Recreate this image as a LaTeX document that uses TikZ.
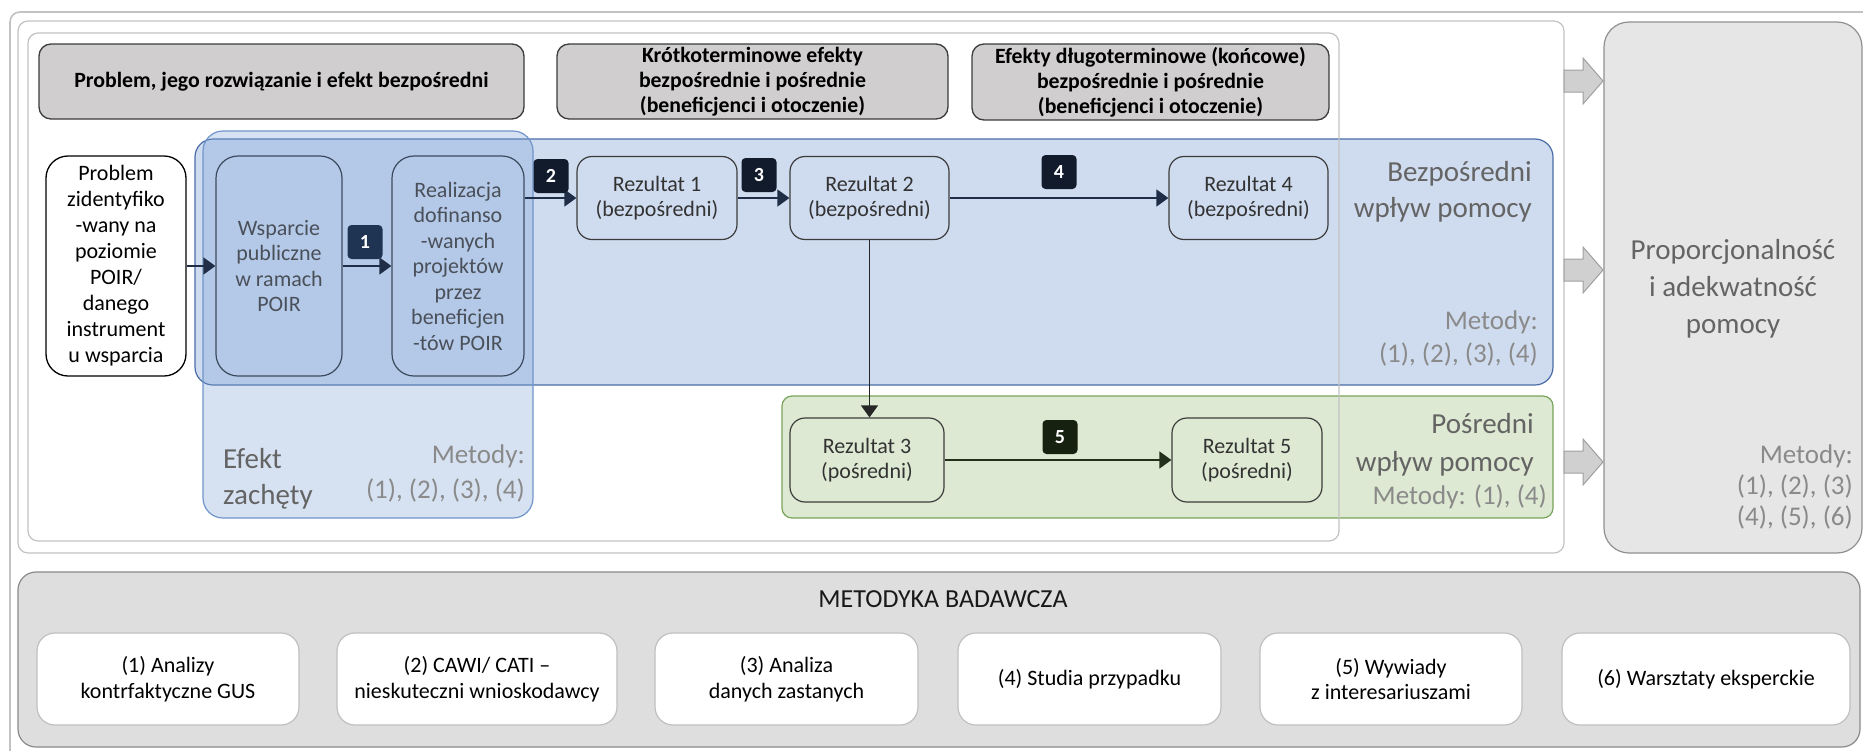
\documentclass[tikz,border=0pt]{standalone}
\usepackage{fontspec}
\setmainfont{Carlito}
\usetikzlibrary{arrows.meta}
\definecolor{frameC}{HTML}{C2C2C2}
\definecolor{hdrF}{HTML}{D0CECE}
\definecolor{hdrD}{HTML}{3C3C3C}
\definecolor{blueF}{HTML}{CFDBEE}
\definecolor{blueD}{HTML}{4A6DA7}
\definecolor{efF}{HTML}{78A0D7}
\definecolor{efD}{HTML}{6F95C9}
\definecolor{greenF}{HTML}{DDE9D2}
\definecolor{greenD}{HTML}{78A35A}
\definecolor{grayF}{HTML}{E6E6E6}
\definecolor{grayD}{HTML}{909090}
\definecolor{metF}{HTML}{DEDEDE}
\definecolor{metD}{HTML}{8A8A8A}
\definecolor{mboxD}{HTML}{C0C0C0}
\definecolor{barF}{HTML}{D0D0D0}
\definecolor{barD}{HTML}{A0A0A0}
\definecolor{titleC}{HTML}{646464}
\definecolor{metC}{HTML}{8A8A8A}
\definecolor{wspC}{HTML}{4A505A}
\definecolor{rezC}{HTML}{333333}
\definecolor{navy}{HTML}{1F2E46}
\definecolor{badgeA}{HTML}{1F3352}
\definecolor{badgeB}{HTML}{111B2C}
\definecolor{badgeG}{HTML}{17210F}
\definecolor{arrG}{HTML}{23301C}
\definecolor{wspD}{HTML}{3B4A5F}
\begin{document}
\begin{tikzpicture}[x=1pt,y=-1pt,
  frame/.style={draw=frameC, line width=1.2pt, rounded corners=10pt},
  hdr/.style={draw=hdrD, fill=hdrF, line width=1.3pt, rounded corners=12pt,
    font=\fontsize{21.8}{25}\selectfont\bfseries, align=center, inner sep=0pt},
  region/.style={line width=1.2pt, inner sep=0pt},
  probbox/.style={draw=black, fill=white, line width=1.3pt, rounded corners=22pt,
    font=\fontsize{22}{26}\selectfont, align=center, inner sep=0pt},
  wspbox/.style={draw=wspD, line width=1.2pt, rounded corners=22pt, text=wspC,
    font=\fontsize{22}{25.5}\selectfont, align=center, inner sep=0pt},
  rezbox/.style={draw=hdrD, line width=1.2pt, rounded corners=15pt, text=rezC,
    font=\fontsize{22}{25.5}\selectfont, align=center, inner sep=0pt},
  mbox/.style={draw=mboxD, fill=white, line width=1.2pt, rounded corners=18pt,
    font=\fontsize{22}{25.5}\selectfont, align=center, inner sep=0pt,
    minimum height=92pt},
  badge/.style={rounded corners=4pt, minimum width=35pt, minimum height=34pt,
    inner sep=0pt, text=white, font=\fontsize{20}{20}\selectfont\bfseries},
  conn/.style={-{Triangle[length=12pt,width=17pt]}, line width=1.4pt, draw=navy},
  lbl/.style={inner sep=0pt, text=titleC, font=\fontsize{29}{36}\selectfont},
  met/.style={inner sep=0pt, text=metC, font=\fontsize{27}{33}\selectfont},
  blockarr/.style={fill=barF, draw=barD, line width=1pt}
]
\useasboundingbox (0,0) rectangle (1863,750);
\clip (0,0) rectangle (1863,750);
\fill[white] (0,0) rectangle (1863,750);

% frames
\draw[frame, line width=1.6pt] (10,12) rectangle (1880,765);
\draw[frame] (18,21) rectangle (1564,553);
\fill[white, rounded corners=10pt] (28,33) rectangle (1339,541);

% right gray box
\node[region, draw=grayD, fill=grayF, rounded corners=25pt,
  minimum width=258pt, minimum height=531pt] (prop) at (1733,287.5) {};

% block arrows
\foreach \c in {81,270,462}{
  \draw[blockarr] (1564,\c-11) -- (1583,\c-11) -- (1583,\c-23) -- (1603,\c)
    -- (1583,\c+23) -- (1583,\c+11) -- (1564,\c+11) -- cycle;
}

% headers
\node[hdr, minimum width=485pt, minimum height=75pt] (h1) at (281.5,81.5)
  {Problem, jego rozwiązanie i efekt bezpośredni};
\node[hdr, minimum width=391pt, minimum height=75pt] (h2) at (752.5,81.5)
  {Krótkoterminowe efekty\\bezpośrednie i pośrednie\\(beneficjenci i otoczenie)};
\node[hdr, minimum width=357pt, minimum height=76pt] (h3) at (1150.5,82)
  {Efekty długoterminowe (końcowe)\\bezpośrednie i pośrednie\\(beneficjenci i otoczenie)};

% regions
\node[region, draw=blueD, fill=blueF, rounded corners=18pt,
  minimum width=1358pt, minimum height=246pt] (bez) at (874,262) {};
\node[region, draw=greenD, fill=greenF, rounded corners=10pt,
  minimum width=771pt, minimum height=122pt] (pos) at (1167.5,457) {};
\node[region, draw=efD, fill=efF, fill opacity=0.3, draw opacity=1, rounded corners=20pt,
  minimum width=330pt, minimum height=387pt] (ef) at (368,324.5) {};

% third frame border on top
\draw[frame] (28,33) rectangle (1339,541);

% process boxes
\node[probbox, minimum width=140pt, minimum height=220pt] (prob) at (116,266)
  {Problem\\zidentyfiko\\-wany na\\poziomie\\POIR/\\danego\\instrument\\u wsparcia};
\node[wspbox, minimum width=126pt, minimum height=220pt] (wsp) at (279,266)
  {Wsparcie\\publiczne\\w ramach\\POIR};
\node[wspbox, minimum width=132pt, minimum height=220pt] (real) at (458,266)
  {Realizacja\\dofinanso\\-wanych\\projektów\\przez\\beneficjen\\-tów POIR};
\node[rezbox, minimum width=160pt, minimum height=83pt] (r1) at (657,198)
  {Rezultat 1\\(bezpośredni)};
\node[rezbox, minimum width=159pt, minimum height=83pt] (r2) at (869.5,198)
  {Rezultat 2\\(bezpośredni)};
\node[rezbox, minimum width=159pt, minimum height=83pt] (r4) at (1248.5,198)
  {Rezultat 4\\(bezpośredni)};
\node[rezbox, minimum width=154pt, minimum height=84pt] (r3) at (867,460)
  {Rezultat 3\\(pośredni)};
\node[rezbox, minimum width=150pt, minimum height=84pt] (r5) at (1247,460)
  {Rezultat 5\\(pośredni)};

% connectors
\draw[conn] (prob.east) -- (wsp.west);
\draw[conn] (wsp.east) -- (real.west);
\draw[conn] (real.east |- r1.west) -- (r1.west);
\draw[conn] (r1.east) -- (r2.west);
\draw[conn] (r2.east) -- (r4.west);
\draw[conn, draw=black!85] (r2.south) -- (r2.south |- r3.north);
\draw[conn, draw=arrG] (r3.east) -- (r5.west);

% badges
\node[badge, fill=badgeA] (b1) at (365,242) {1};
\node[badge, fill=badgeB] (b2) at (551,176) {2};
\node[badge, fill=badgeB] (b3) at (759,175) {3};
\node[badge, fill=badgeB] (b4) at (1059,172) {4};
\node[badge, fill=badgeG] (b5) at (1060,437) {5};

% region labels
\node[lbl, anchor=base east] (bz1) at (1532,181) {Bezpośredni};
\node[lbl, anchor=base east] (bz2) at (1532,217) {wpływ pomocy};
\node[met, anchor=base east] (bzm1) at (1538,329) {Metody:};
\node[met, anchor=base east] (bzm2) at (1538,362) {(1), (2), (3), (4)};

\node[lbl, anchor=base east] (ps1) at (1534,433) {Pośredni};
\node[lbl, anchor=base east] (ps2) at (1534,471) {wpływ pomocy};
\node[met, anchor=base east] (psm) at (1547,504) {Metody: (1), (4)};

\node[lbl, anchor=base west] (ez1) at (223,468) {Efekt};
\node[lbl, anchor=base west] (ez2) at (223,504) {zachęty};
\node[met, anchor=base east] (ezm1) at (525,463) {Metody:};
\node[met, anchor=base east] (ezm2) at (525,498) {(1), (2), (3), (4)};

\node[lbl, anchor=base] (pr1) at (1733,259) {Proporcjonalność};
\node[lbl, anchor=base] (pr2) at (1733,296) {i adekwatność};
\node[lbl, anchor=base] (pr3) at (1733,333) {pomocy};
\node[met, anchor=base east] (prm1) at (1853,463) {Metody:};
\node[met, anchor=base east] (prm2) at (1853,494) {(1), (2), (3)};
\node[met, anchor=base east] (prm3) at (1853,525) {(4), (5), (6)};

% methodology
\node[region, draw=metD, fill=metF, rounded corners=18pt,
  minimum width=1842pt, minimum height=175pt] (mety) at (939,659.5) {};
\node[inner sep=0pt, text=black!90, font=\fontsize{26}{30}\selectfont, anchor=base]
  (metyt) at (943,607) {METODYKA BADAWCZA};
\node[mbox, minimum width=262pt] (m1) at (168,679) {(1) Analizy\\kontrfaktyczne GUS};
\node[mbox, minimum width=280pt] (m2) at (477,679) {(2) CAWI/ CATI –\\nieskuteczni wnioskodawcy};
\node[mbox, minimum width=263pt] (m3) at (786.5,679) {(3) Analiza\\danych zastanych};
\node[mbox, minimum width=263pt] (m4) at (1089.5,679) {(4) Studia przypadku};
\node[mbox, minimum width=262pt] (m5) at (1391,679) {(5) Wywiady\\z interesariuszami};
\node[mbox, minimum width=288pt] (m6) at (1706,679) {(6) Warsztaty eksperckie};
\end{tikzpicture}
\end{document}
